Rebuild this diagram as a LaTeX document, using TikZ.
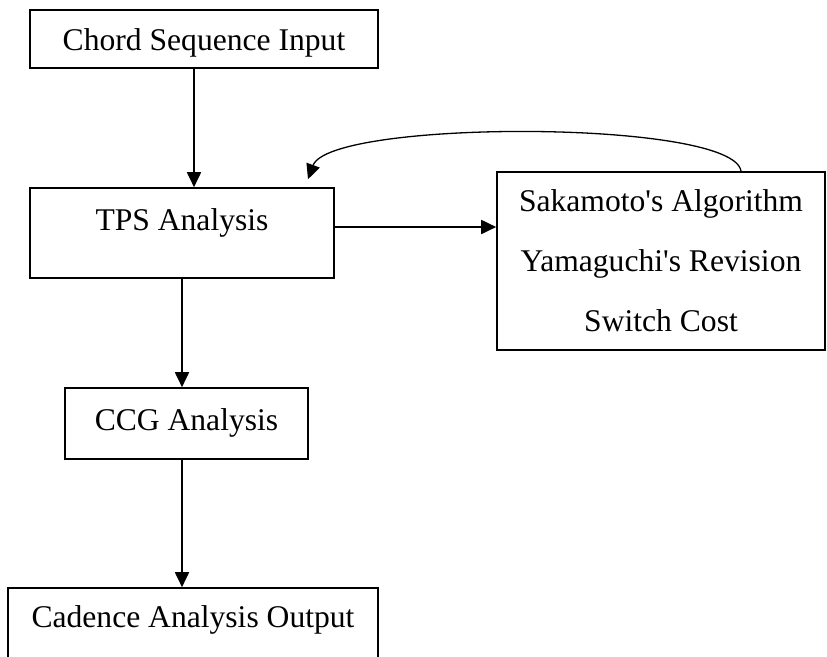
\documentclass[tikz,border=0pt]{standalone}
\usepackage{fontspec}
\setmainfont{Liberation Serif}
\usetikzlibrary{arrows.meta,calc}
\definecolor{ink}{HTML}{000000}
\newcommand{\boxfont}{\fontsize{31.6}{60}\selectfont}

\begin{document}
\begin{tikzpicture}[x=1pt,y=-1pt,font=\boxfont,
  stage/.style={draw=ink,line width=1.6pt,inner sep=0,minimum width=#1},
  flow/.style={ink,line width=1.8pt,-{Triangle[length=15pt,width=14pt]}}]
\useasboundingbox (0,0) rectangle (827,656);
\node[stage=348pt,text height=40pt,text depth=18pt] (input) at (204,39) {Chord Sequence Input};
\node[stage=304pt,text height=42pt,text depth=48pt] (tps) at (182,233) {TPS Analysis};
\node[stage=328pt,minimum height=178pt,align=center] (algo) at (661,261) {Sakamoto\textquotesingle s Algorithm\\Yamaguchi\textquotesingle s Revision\\Switch Cost};
\node[stage=243pt,text height=42.5pt,text depth=28.5pt] (ccg) at (186.5,423.5) {CCG Analysis};
\node[stage=370pt,text height=39.5pt,text depth=50.5pt] (output) at (193,633) {Cadence Analysis Output};
\draw[flow] ([xshift=-10pt]input.south) -- ([xshift=12pt]tps.north);
\draw[flow] ([yshift=6pt]tps.east) -- ([yshift=6pt]tps.east -| algo.west);
\draw[flow] (tps.south) -- (tps.south |- ccg.north);
\draw[flow] (ccg.south -| tps.south) -- (tps.south |- output.north);
\draw[flow,line width=1.3pt] ([xshift=80pt]algo.north) .. controls +(-7,-52) and +(22,-60) .. ([xshift=126pt,yshift=8pt]tps.north);
\end{tikzpicture}
\end{document}
